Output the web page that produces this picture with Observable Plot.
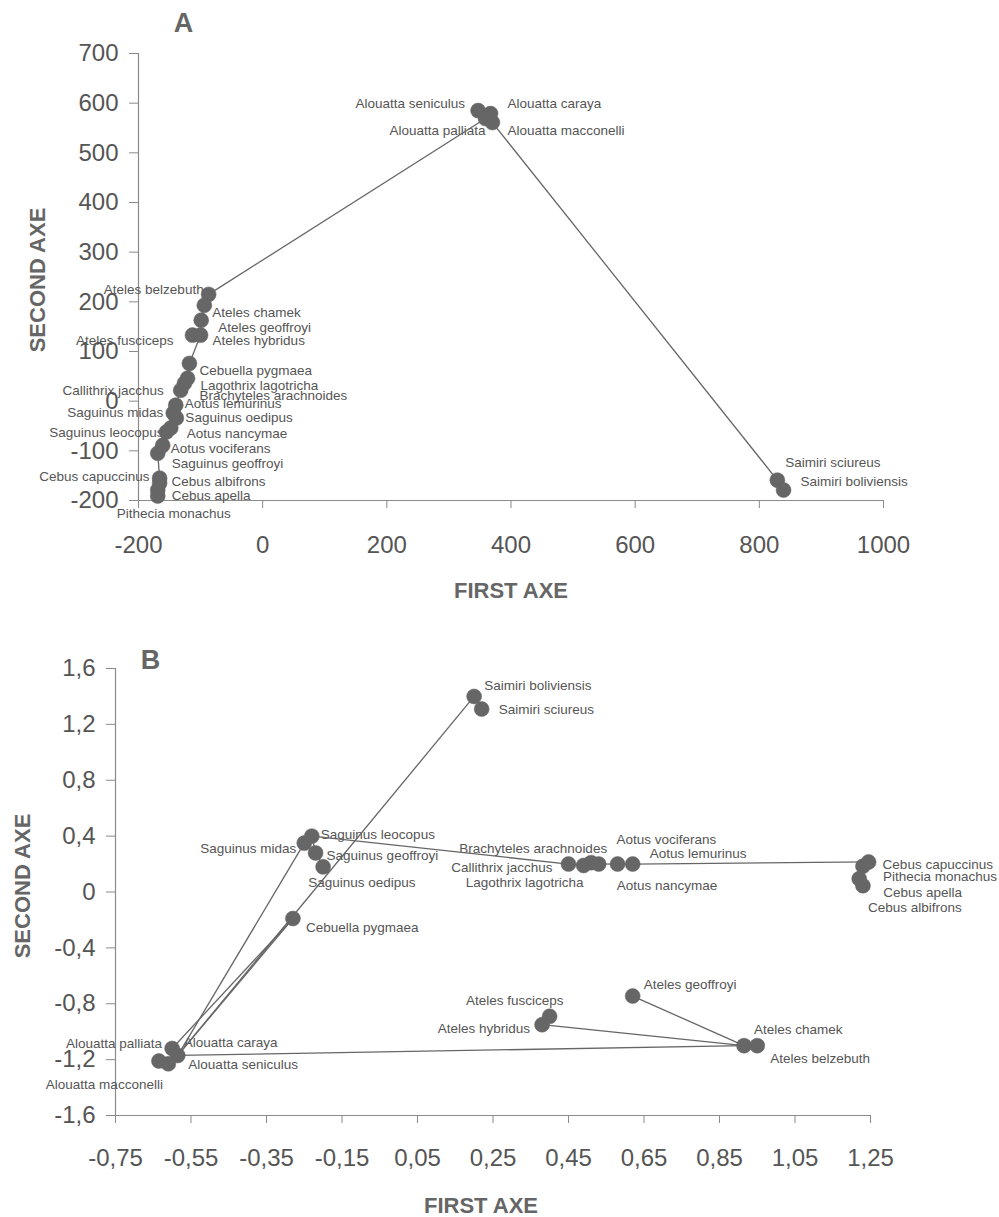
<!DOCTYPE html>
<html>
<head>
<meta charset="utf-8">
<script src="https://cdn.jsdelivr.net/npm/d3@7"></script>
<script src="https://cdn.jsdelivr.net/npm/@observablehq/plot@0.6"></script>
<style>
  html, body { margin: 0; padding: 0; background: #fff; }
  svg { display: block; }
</style>
</head>
<body>
<div id="chart"></div>
<script>
// ---------- Panel A data ----------
const speciesA = [
  "Ateles belzebuth", "Ateles chamek", "Ateles geoffroyi", "Ateles fusciceps", "Ateles hybridus",
  "Cebuella pygmaea", "Lagothrix lagotricha", "Brachyteles arachnoides", "Callithrix jacchus",
  "Aotus lemurinus", "Saguinus midas", "Saguinus oedipus", "Aotus nancymae", "Saguinus leocopus",
  "Aotus vociferans", "Saguinus geoffroyi", "Cebus capuccinus", "Cebus albifrons", "Cebus apella",
  "Pithecia monachus", "Alouatta seniculus", "Alouatta caraya", "Alouatta palliata",
  "Alouatta macconelli", "Saimiri sciureus", "Saimiri boliviensis"
];
const firstAxeA = [-87, -94, -99, -113, -100, -118, -121, -126, -132, -140, -144, -139, -148, -155,
  -161, -169, -166, -166, -169, -169, 347, 367, 359, 370, 829, 839];
const secondAxeA = [215, 193, 163, 133, 133, 76, 46, 36, 22, -8, -24, -34, -54, -62,
  -89, -105, -155, -165, -179, -191, 585, 579, 569, 561, -159, -179];
const linksA = [
  ["Alouatta palliata", "Ateles belzebuth"], ["Alouatta macconelli", "Saimiri sciureus"],
  ["Saimiri sciureus", "Saimiri boliviensis"], ["Alouatta seniculus", "Alouatta palliata"],
  ["Alouatta caraya", "Alouatta macconelli"], ["Alouatta seniculus", "Alouatta caraya"],
  ["Ateles belzebuth", "Ateles chamek"], ["Ateles chamek", "Ateles geoffroyi"],
  ["Ateles geoffroyi", "Ateles hybridus"], ["Ateles hybridus", "Ateles fusciceps"],
  ["Ateles hybridus", "Cebuella pygmaea"], ["Cebuella pygmaea", "Lagothrix lagotricha"],
  ["Lagothrix lagotricha", "Brachyteles arachnoides"], ["Brachyteles arachnoides", "Callithrix jacchus"],
  ["Callithrix jacchus", "Aotus lemurinus"], ["Aotus lemurinus", "Saguinus midas"],
  ["Saguinus midas", "Saguinus oedipus"], ["Saguinus oedipus", "Aotus nancymae"],
  ["Aotus nancymae", "Saguinus leocopus"], ["Saguinus leocopus", "Aotus vociferans"],
  ["Aotus vociferans", "Saguinus geoffroyi"], ["Saguinus geoffroyi", "Cebus capuccinus"],
  ["Cebus capuccinus", "Cebus albifrons"], ["Cebus albifrons", "Cebus apella"],
  ["Cebus apella", "Pithecia monachus"]
];
const ticksAX = [-200, 0, 200, 400, 600, 800, 1000];
const ticksAY = [-200, -100, 0, 100, 200, 300, 400, 500, 600, 700];

// ---------- Panel B data ----------
const speciesB = [
  "Saimiri boliviensis", "Saimiri sciureus", "Saguinus midas", "Saguinus leocopus",
  "Saguinus geoffroyi", "Saguinus oedipus", "Cebuella pygmaea", "Callithrix jacchus",
  "Lagothrix lagotricha", "Brachyteles arachnoides", "Aotus nancymae", "Aotus vociferans",
  "Aotus lemurinus", "Cebus capuccinus", "Pithecia monachus", "Cebus apella", "Cebus albifrons",
  "Ateles geoffroyi", "Ateles fusciceps", "Ateles hybridus", "Ateles chamek", "Ateles belzebuth",
  "Alouatta palliata", "Alouatta caraya", "Alouatta macconelli", "Alouatta seniculus"
];
const firstAxeB = [0.20, 0.22, -0.25, -0.23, -0.22, -0.20, -0.28, 0.45, 0.49, 0.51, 0.53, 0.58,
  0.62, 1.245, 1.23, 1.22, 1.23, 0.62, 0.40, 0.38, 0.915, 0.95, -0.60, -0.585, -0.635, -0.61];
const secondAxeB = [1.40, 1.31, 0.35, 0.40, 0.28, 0.18, -0.19, 0.20, 0.19, 0.21, 0.20, 0.20,
  0.20, 0.215, 0.185, 0.095, 0.045, -0.745, -0.89, -0.95, -1.10, -1.10, -1.12, -1.17, -1.21, -1.23];
const linksB = [
  ["Alouatta caraya", "Saguinus midas"], ["Alouatta caraya", "Saimiri boliviensis"],
  ["Alouatta palliata", "Cebuella pygmaea"], ["Alouatta caraya", "Cebuella pygmaea"],
  ["Alouatta caraya", "Ateles chamek"], ["Ateles hybridus", "Ateles chamek"],
  ["Ateles geoffroyi", "Ateles chamek"], ["Ateles fusciceps", "Ateles hybridus"],
  ["Ateles chamek", "Ateles belzebuth"], ["Saguinus leocopus", "Callithrix jacchus"],
  ["Callithrix jacchus", "Lagothrix lagotricha"], ["Lagothrix lagotricha", "Brachyteles arachnoides"],
  ["Brachyteles arachnoides", "Aotus nancymae"], ["Aotus nancymae", "Aotus vociferans"],
  ["Aotus vociferans", "Aotus lemurinus"], ["Aotus lemurinus", "Cebus capuccinus"],
  ["Cebus capuccinus", "Pithecia monachus"], ["Pithecia monachus", "Cebus apella"],
  ["Cebus apella", "Cebus albifrons"], ["Saguinus midas", "Saguinus leocopus"],
  ["Saguinus leocopus", "Saguinus geoffroyi"], ["Saguinus geoffroyi", "Saguinus oedipus"],
  ["Saimiri boliviensis", "Saimiri sciureus"], ["Alouatta palliata", "Alouatta caraya"],
  ["Alouatta macconelli", "Alouatta seniculus"], ["Alouatta caraya", "Alouatta seniculus"]
];
const ticksBX = [-0.75, -0.55, -0.35, -0.15, 0.05, 0.25, 0.45, 0.65, 0.85, 1.05, 1.25];
const ticksBY = [-1.6, -1.2, -0.8, -0.4, 0, 0.4, 0.8, 1.2, 1.6];

// ---------- label placement (layout: anchor, dx, dy in px) ----------
const placeA = {
  "Ateles belzebuth": ["end", -5, -5], "Ateles chamek": ["start", 8, 7],
  "Ateles geoffroyi": ["start", 17, 7], "Ateles fusciceps": ["end", -19, 6],
  "Ateles hybridus": ["start", 12, 6], "Cebuella pygmaea": ["start", 10, 7],
  "Lagothrix lagotricha": ["start", 13, 7], "Brachyteles arachnoides": ["start", 15, 12],
  "Callithrix jacchus": ["end", -17, 0], "Aotus lemurinus": ["start", 9, -1],
  "Saguinus midas": ["end", -10, 0], "Saguinus oedipus": ["start", 9, 0],
  "Aotus nancymae": ["start", 16, 6], "Saguinus leocopus": ["end", -3, 1],
  "Aotus vociferans": ["start", 8, 3], "Saguinus geoffroyi": ["start", 14, 10],
  "Cebus capuccinus": ["end", -10, -1], "Cebus albifrons": ["start", 12, -1],
  "Cebus apella": ["start", 14, 6], "Pithecia monachus": ["middle", 16, 18],
  "Alouatta seniculus": ["end", -13, -7], "Alouatta caraya": ["start", 17, -10],
  "Alouatta palliata": ["end", 0, 12], "Alouatta macconelli": ["start", 15, 8],
  "Saimiri sciureus": ["start", 8, -17], "Saimiri boliviensis": ["start", 17, -8]
};
const placeB = {
  "Saimiri boliviensis": ["start", 10, -11], "Saimiri sciureus": ["start", 17, 1],
  "Saguinus midas": ["end", -8, 6], "Saguinus leocopus": ["start", 9, -1],
  "Saguinus geoffroyi": ["start", 11, 3], "Saguinus oedipus": ["start", -15, 16],
  "Cebuella pygmaea": ["start", 13, 9], "Callithrix jacchus": ["end", -16, 4],
  "Lagothrix lagotricha": ["end", 0, 17], "Brachyteles arachnoides": ["end", 16, -14],
  "Aotus nancymae": ["start", 18, 22], "Aotus vociferans": ["start", -1, -24],
  "Aotus lemurinus": ["start", 17, -10], "Cebus capuccinus": ["start", 14, 3],
  "Pithecia monachus": ["start", 20, 11], "Cebus apella": ["start", 24, 14],
  "Cebus albifrons": ["start", 5, 22], "Ateles geoffroyi": ["start", 11, -11],
  "Ateles fusciceps": ["end", 14, -16], "Ateles hybridus": ["end", -12, 4],
  "Ateles chamek": ["start", 10, -16], "Ateles belzebuth": ["start", 13, 13],
  "Alouatta palliata": ["end", -10, -5], "Alouatta caraya": ["start", 6, -13],
  "Alouatta macconelli": ["end", 4, 24], "Alouatta seniculus": ["start", 20, 1]
};

const FONT = "'Liberation Sans', Arial, Helvetica, sans-serif";
const INK = "#555";
const DOT = "#666";

function table(names, xs, ys) {
  return names.map((name, i) => ({name, x: xs[i], y: ys[i]}));
}
function linkTable(rows, pairs) {
  const byName = new Map(rows.map(d => [d.name, d]));
  return pairs.map(([a, b]) => ({x1: byName.get(a).x, y1: byName.get(a).y, x2: byName.get(b).x, y2: byName.get(b).y}));
}
function labelMarks(rows, place, size) {
  return rows.map(d => {
    const [anchor, dx, dy] = place[d.name];
    return Plot.text([d], {x: "x", y: "y", text: "name", textAnchor: anchor, dx, dy,
      fontSize: size, fill: INK, fontFamily: FONT});
  });
}

function panel(opts) {
  const rows = table(opts.names, opts.xs, opts.ys);
  const links = linkTable(rows, opts.links);
  const [x0, x1] = opts.xDomain, [y0, y1] = opts.yDomain;
  return Plot.plot({
    width: 999,
    height: opts.height,
    marginTop: opts.margins[0], marginRight: opts.margins[1],
    marginBottom: opts.margins[2], marginLeft: opts.margins[3],
    x: {domain: opts.xDomain},
    y: {domain: opts.yDomain},
    style: {fontFamily: FONT, background: "#fff", color: INK, overflow: "visible"},
    marks: [
      Plot.ruleX([x0], {y1: y0, y2: y1, stroke: "#8a8a8a", strokeWidth: 1.2}),
      Plot.ruleY([y0], {x1: x0, x2: x1, stroke: "#8a8a8a", strokeWidth: 1.2}),
      Plot.axisX({ticks: opts.xTicks, tickFormat: opts.xFormat, tickSize: 8, tickPadding: opts.xPad,
        fontSize: 24, fill: INK, stroke: "#8a8a8a", label: null}),
      Plot.axisY({ticks: opts.yTicks, tickFormat: opts.yFormat, tickSize: 9, tickPadding: 11,
        fontSize: 24, fill: INK, stroke: "#8a8a8a", label: null}),
      ...labelMarks(rows, opts.place, 13.5),
      Plot.link(links, {x1: "x1", y1: "y1", x2: "x2", y2: "y2", stroke: "#666", strokeWidth: 1.3}),
      Plot.dot(rows, {x: "x", y: "y", r: 7.5, fill: DOT, stroke: DOT, strokeWidth: 0.5}),
      Plot.text([opts.letter], {frameAnchor: "top-left", text: d => d, dx: opts.letterPos[0], dy: opts.letterPos[1],
        textAnchor: "middle", lineAnchor: "middle", fontSize: 27, fontWeight: "bold", fill: "#666"}),
      Plot.text(["SECOND AXE"], {frameAnchor: "left", text: d => d, rotate: -90, dx: opts.yTitle[0], dy: opts.yTitle[1],
        textAnchor: "middle", lineAnchor: "middle", fontSize: 22, fontWeight: "bold", fill: "#666"}),
      Plot.text(["FIRST AXE"], {frameAnchor: "bottom", text: d => d, dx: opts.xTitle[0], dy: opts.xTitle[1],
        textAnchor: "middle", lineAnchor: "middle", fontSize: 22, fontWeight: "bold", fill: "#666"})
    ]
  });
}

const commaFmt = (digits) => d => (d === 0 ? "0" : d.toFixed(digits).replace(".", ","));

const chartA = panel({
  names: speciesA, xs: firstAxeA, ys: secondAxeA, links: linksA, place: placeA,
  height: 610, margins: [53, 116, 110, 138],
  xDomain: [-200, 1000], yDomain: [-200, 700],
  xTicks: ticksAX, yTicks: ticksAY, xFormat: d => String(d), yFormat: d => String(d), xPad: 27,
  letter: "A", letterPos: [45, -30], yTitle: [-101, 3], xTitle: [0, 90]
});
const chartB = panel({
  names: speciesB, xs: firstAxeB, ys: secondAxeB, links: linksB, place: placeB,
  height: 607, margins: [58, 129, 102, 115],
  xDomain: [-0.75, 1.25], yDomain: [-1.6, 1.6],
  xTicks: ticksBX, yTicks: ticksBY, xFormat: commaFmt(2), yFormat: commaFmt(1), xPad: 25,
  letter: "B", letterPos: [35, -8], yTitle: [-93, -6], xTitle: [-12, 90]
});

const root = document.getElementById("chart");
root.append(chartA, chartB);
</script>
</body>
</html>
